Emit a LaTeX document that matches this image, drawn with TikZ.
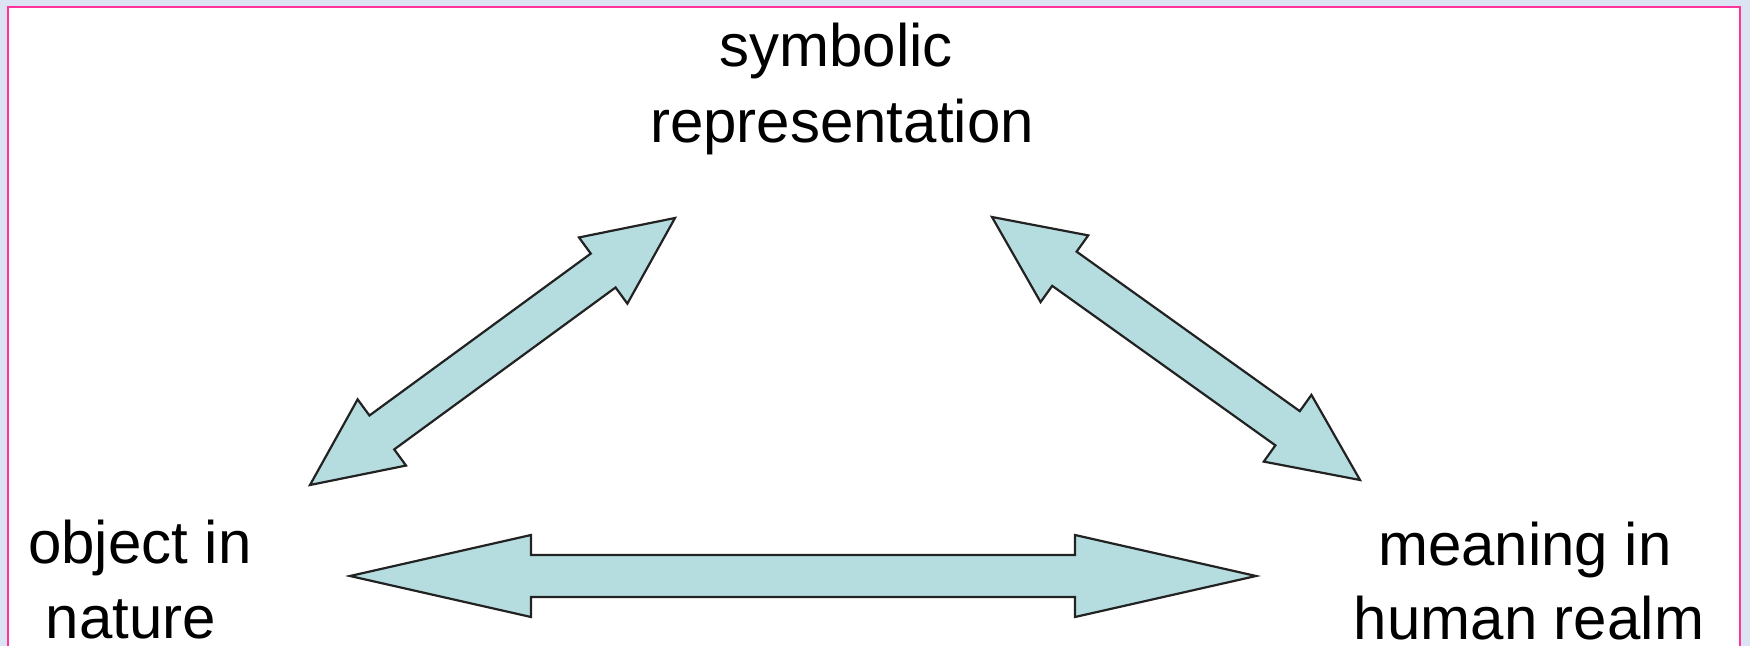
\documentclass[tikz,border=0pt]{standalone}
\usepackage{fontspec}
\setmainfont{Liberation Sans}
\usetikzlibrary{calc}
\definecolor{bgblue}{HTML}{DCE3F3}
\definecolor{framepink}{HTML}{FF3399}
\definecolor{arrowfill}{HTML}{B5DDE0}
\definecolor{arrowline}{HTML}{222222}
\tikzset{
  lbl/.style={anchor=base, inner sep=0pt, font=\fontsize{30}{37.5}\selectfont, text=black},
  arrowbody/.style={fill=arrowfill, draw=arrowline, line width=1.1pt, line join=miter},
}
% #1 from, #2 to, #3 head length, #4 head half width, #5 shaft half width
\newcommand\fatdoublearrow[5]{%
  \coordinate (pa) at ($(#1)!#3!(#2)$);
  \coordinate (pb) at ($(#2)!#3!(#1)$);
  \filldraw[arrowbody] (#1)
    -- ($(pa)!#4!90:(#2)$) -- ($(pa)!#5!90:(#2)$)
    -- ($(pb)!#5!-90:(#1)$) -- ($(pb)!#4!-90:(#1)$)
    -- (#2)
    -- ($(pb)!#4!90:(#1)$) -- ($(pb)!#5!90:(#1)$)
    -- ($(pa)!#5!-90:(#2)$) -- ($(pa)!#4!-90:(#2)$)
    -- cycle;
}
\begin{document}
\begin{tikzpicture}[x=0.5pt,y=-0.5pt]
\useasboundingbox (0,0) rectangle (1750,646);
% background and frame
\fill[bgblue] (0,0) rectangle (1750,646);
\fill[white] (8,7) rectangle (1740,646);
\draw[framepink, line width=1.4pt] (8,646) -- (8,7) -- (1740,7) -- (1740,646);
% labels
\node[lbl] (sym1) at (836,67) {symbolic};
\node[lbl] (sym2) at (842,143) {representation};
\node[lbl] (obj1) at (140,563) {object in};
\node[lbl] (obj2) at (131,638) {nature};
\node[lbl] (mea1) at (1525,565) {meaning in};
\node[lbl] (mea2) at (1529,639) {human realm};
% arrow tips
\coordinate (objtip) at (310,485);
\coordinate (symtipL) at (675,218);
\coordinate (symtipR) at (992,217);
\coordinate (meatip) at (1360,480);
\coordinate (objtipH) at (350,576);
\coordinate (meatipH) at (1256,576);
% arrows
\fatdoublearrow{objtip}{symtipL}{44.5pt}{20.5pt}{10.5pt}
\fatdoublearrow{symtipR}{meatip}{44.5pt}{20.5pt}{10.5pt}
\fatdoublearrow{objtipH}{meatipH}{90.5pt}{20.5pt}{10.5pt}
\end{tikzpicture}
\end{document}
